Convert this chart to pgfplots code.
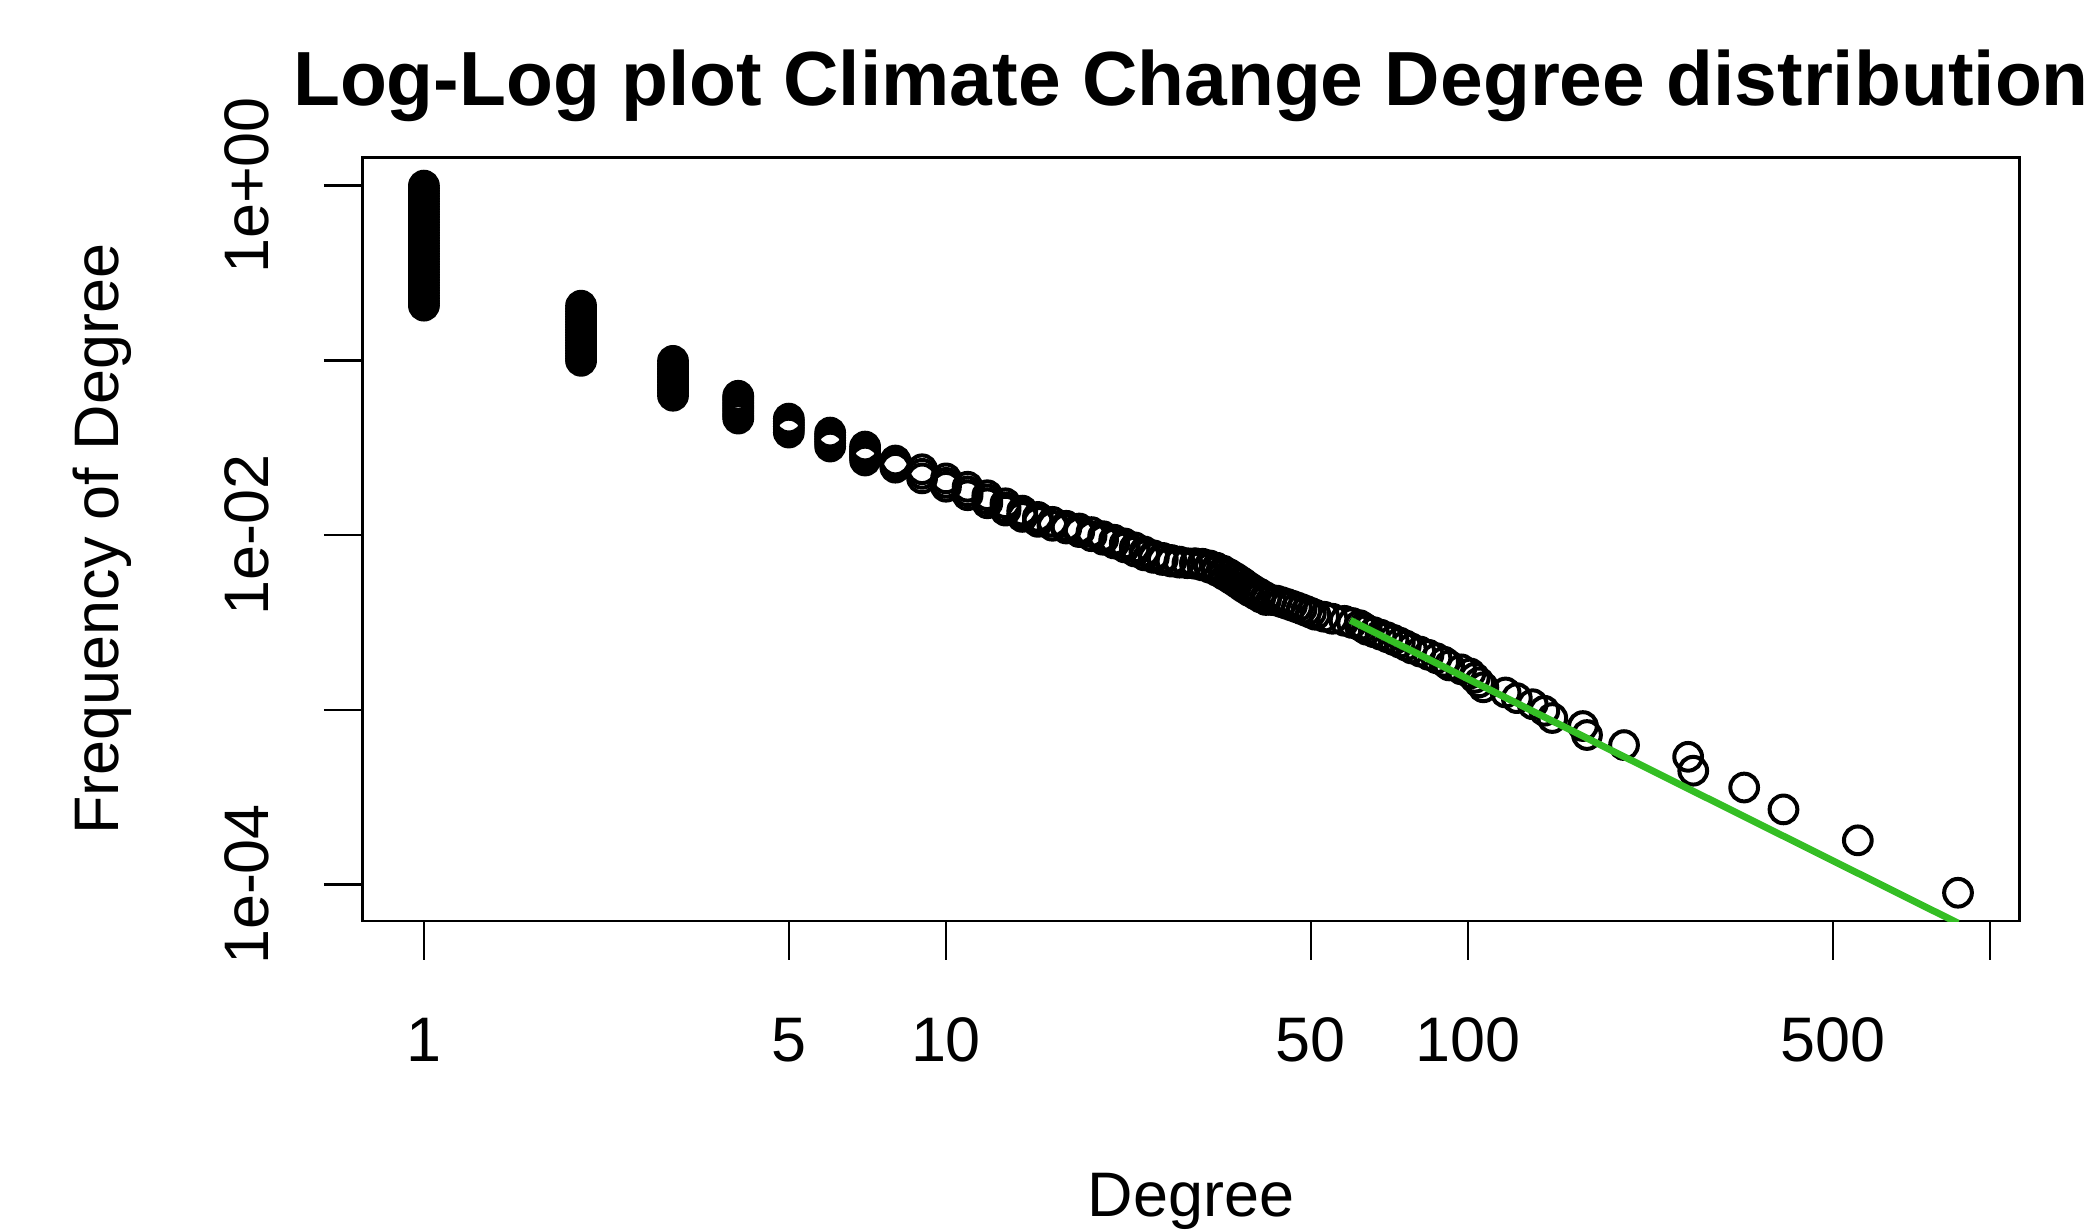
\documentclass[border=0pt]{standalone}
\usepackage{fontspec}
\setmainfont{Liberation Sans}
\usepackage{pgfplots}
\pgfplotsset{compat=1.18}
\definecolor{fitgreen}{RGB}{52,190,36}

% degree (x) vs. fraction of nodes with at least that degree (y)
\pgfplotstableread[row sep=\\]{
x y \\
1 1.0000 \\ 1 0.9661 \\ 1 0.9333 \\ 1 0.9016 \\ 1 0.8710 \\ 1 0.8414 \\ 1 0.8128 \\ 1 0.7852 \\
1 0.7586 \\ 1 0.7328 \\ 1 0.7079 \\ 1 0.6839 \\ 1 0.6607 \\ 1 0.6383 \\ 1 0.6166 \\ 1 0.5957 \\
1 0.5754 \\ 1 0.5559 \\ 1 0.5370 \\ 1 0.5188 \\ 1 0.5012 \\ 1 0.4842 \\ 1 0.4677 \\ 1 0.4519 \\
1 0.4365 \\ 1 0.4217 \\ 1 0.4074 \\ 1 0.3936 \\ 1 0.3802 \\ 1 0.3673 \\ 1 0.3548 \\ 1 0.3428 \\
1 0.3311 \\ 1 0.3199 \\ 1 0.3090 \\ 1 0.2985 \\ 1 0.2884 \\ 1 0.2786 \\ 1 0.2692 \\ 1 0.2600 \\
1 0.2512 \\ 1 0.2427 \\ 1 0.2344 \\ 1 0.2265 \\ 1 0.2188 \\ 1 0.2113 \\ 1 0.2055 \\
2 0.2055 \\ 2 0.1972 \\ 2 0.1905 \\ 2 0.1841 \\ 2 0.1778 \\ 2 0.1718 \\ 2 0.1660 \\ 2 0.1603 \\
2 0.1549 \\ 2 0.1496 \\ 2 0.1445 \\ 2 0.1396 \\ 2 0.1349 \\ 2 0.1303 \\ 2 0.1259 \\ 2 0.1216 \\
2 0.1175 \\ 2 0.1135 \\ 2 0.1096 \\ 2 0.1059 \\ 2 0.1023 \\ 2 0.0993 \\
3 0.0993 \\ 3 0.0955 \\ 3 0.0923 \\ 3 0.0891 \\ 3 0.0861 \\ 3 0.0832 \\ 3 0.0803 \\ 3 0.0776 \\
3 0.0750 \\ 3 0.0724 \\ 3 0.0700 \\ 3 0.0676 \\ 3 0.0653 \\ 3 0.0627 \\
4 0.0627 \\ 4 0.0610 \\ 4 0.0589 \\ 4 0.0569 \\ 4 0.0550 \\ 4 0.0531 \\ 4 0.0513 \\ 4 0.0496 \\
4 0.0479 \\ 4 0.0464 \\
5 0.0464 \\ 5 0.0448 \\ 5 0.0433 \\ 5 0.0418 \\ 5 0.0404 \\ 5 0.0386 \\
6 0.0386 \\ 6 0.0373 \\ 6 0.0360 \\ 6 0.0348 \\ 6 0.0336 \\ 6 0.0321 \\
7 0.0321 \\ 7 0.0310 \\ 7 0.0299 \\ 7 0.0289 \\ 7 0.0279 \\ 7 0.0267 \\
8 0.0267 \\ 8 0.0258 \\ 8 0.0250 \\ 8 0.0243 \\
9 0.0238 \\ 9 0.0224 \\ 9 0.0211 \\
10 0.0211 \\ 10 0.0199 \\ 10 0.0189 \\
11 0.0189 \\ 11 0.0178 \\ 11 0.0169 \\
12 0.0169 \\ 12 0.0160 \\ 12 0.0152 \\
13 0.0152 \\ 13 0.0144 \\ 13 0.0138 \\
14 0.0138 \\ 14 0.0132 \\ 14 0.0127 \\
15 0.0127 \\ 15 0.0123 \\ 15 0.0119 \\
16 0.0119 \\ 16 0.0113 \\
17 0.0113 \\ 17 0.0109 \\
18 0.0109 \\ 18 0.0104 \\
19 0.0104 \\ 19 0.00985 \\
20 0.00985 \\ 20 0.0094 \\
21 0.0094 \\ 21 0.00895 \\
22 0.00895 \\ 22 0.0085 \\
23 0.0085 \\ 23 0.00805 \\
24 0.00805 \\ 24 0.00765 \\
25 0.00765 \\ 25 0.0074 \\
26 0.0074 \\ 26 0.0072 \\
27 0.0072 \\ 27 0.00705 \\
28 0.00705 \\ 28 0.00695 \\
29 0.0069 \\
30 0.0069 \\ 30 0.00685 \\
31 0.00685 \\ 31 0.0067 \\
32 0.0067 \\ 32 0.0065 \\
33 0.0065 \\ 33 0.00625 \\
34 0.00625 \\ 34 0.00595 \\
35 0.00595 \\ 35 0.00565 \\
36 0.00565 \\ 36 0.00535 \\
37 0.00535 \\ 37 0.00505 \\
38 0.00505 \\ 38 0.0048 \\
39 0.0048 \\ 39 0.0046 \\
40 0.0046 \\ 40 0.0044 \\
41 0.0044 \\ 41 0.00425 \\
42 0.00425 \\
43 0.004215 \\ 44 0.004126 \\ 45 0.004036 \\ 46 0.003946 \\ 47 0.003857 \\ 48 0.003767 \\
49 0.003677 \\ 50 0.003587 \\ 51 0.003498 \\ 53 0.003408 \\ 55 0.003318 \\ 58 0.003229 \\
60 0.003139 \\ 62 0.003049 \\ 63 0.002960 \\ 64 0.002870 \\ 66 0.002780 \\ 68 0.002691 \\
70 0.002601 \\ 72 0.002511 \\ 74 0.002422 \\ 76 0.002332 \\ 78 0.002242 \\ 81 0.002152 \\
84 0.002063 \\ 87 0.001973 \\ 90 0.001883 \\ 92 0.001794 \\ 97 0.001704 \\ 101 0.001614 \\
103 0.001525 \\ 105 0.001435 \\ 107 0.001345 \\ 118 0.001256 \\ 124 0.001166 \\ 133 0.001076 \\
140 0.000987 \\ 145 0.000897 \\ 166 0.000807 \\ 169 0.000717 \\ 199 0.000628 \\ 264 0.000538 \\
270 0.000448 \\ 338 0.000359 \\ 402 0.000269 \\ 558 0.000179 \\ 868 0.0000897 \\
}\degdist

\begin{document}
\begin{tikzpicture}
\useasboundingbox (-68pt,-58.25pt) rectangle (324pt,172.75pt);
\begin{axis}[
    at={(0,0)}, anchor=south west,
    scale only axis,
    width=310.75pt, height=143.25pt,
    xmode=log, ymode=log,
    xmin=0.7629, xmax=1137.6,
    ymin=6.177e-5, ymax=1.4518,
    xtick={1,5,10,50,100,500,1000},
    xticklabels={1,5,10,50,100,500,{}},
    ytick={1e-4,1e-3,1e-2,1e-1,1},
    yticklabels={1e-04,{},1e-02,{},1e+00},
    xminorticks=false, yminorticks=false,
    tick pos=left, tick align=outside,
    major tick length=7.25pt,
    tick style={black, line width=0.45pt},
    axis line style={line width=0.5pt},
    clip marker paths=true,
    ticklabel style={font=\fontsize{11.8}{14}\selectfont, inner sep=0pt},
    xticklabel style={anchor=north, yshift=-10.75pt},
    yticklabel style={xshift=-10.05pt, rotate=90, anchor=south},
    title={Log-Log plot Climate Change Degree distribution},
    title style={font=\bfseries\fontsize{14.4}{17}\selectfont,
        at={(axis description cs:0.5,1)}, anchor=base, yshift=3.8pt, inner sep=0pt},
    xlabel={Degree},
    xlabel style={font=\fontsize{11.8}{14}\selectfont,
        at={(axis description cs:0.5,0)}, anchor=base, yshift=-55.5pt, inner sep=0pt},
    ylabel={Frequency of Degree},
    ylabel style={font=\fontsize{11.8}{14}\selectfont,
        at={(axis description cs:-0.14723,0.5)}, anchor=base, inner sep=0pt},
]
\addplot[only marks, mark=o, mark size=2.6pt,
    mark options={draw=black, line width=0.75pt}] table {\degdist};
\addplot[fitgreen, line width=1.3pt] coordinates {(59.5,0.003254) (868,6.014e-5)};
\end{axis}
\end{tikzpicture}
\end{document}
